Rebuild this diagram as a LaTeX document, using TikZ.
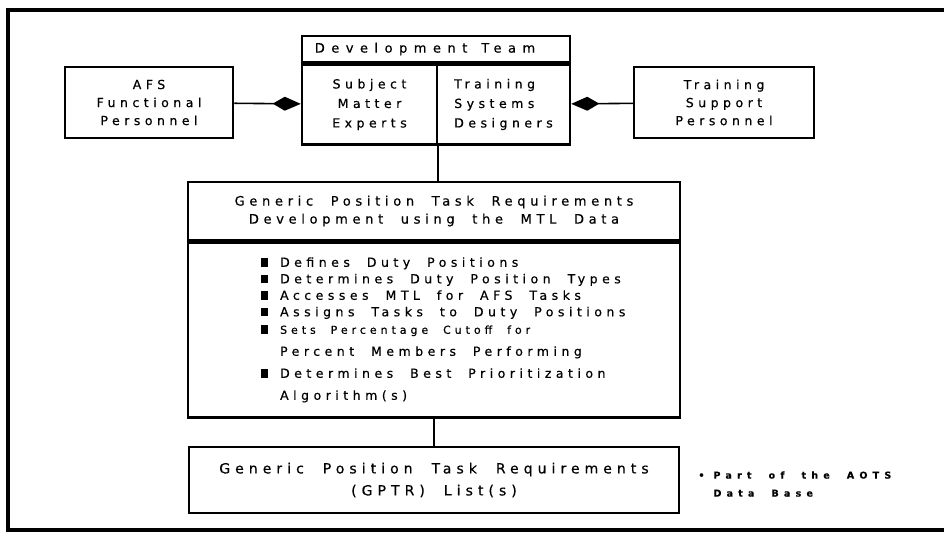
\documentclass[tikz,border=0pt]{standalone}
\usepackage{fontspec}
\setmainfont{DejaVu Sans}[LetterSpace=36, WordSpace=2, FakeBold=0.5]
\usetikzlibrary{arrows.meta, positioning}

\newcommand{\sqbul}{\raisebox{0pt}{\rule{7.5pt}{8.5pt}}}

\begin{document}
\begin{tikzpicture}[
    x=1pt, y=-1pt,
    box/.style={rectangle, draw, line width=2.5pt, align=center, inner sep=0pt, font=\fontsize{12.5}{18}\selectfont},
    teambox/.style={box, font=\fontsize{12.5}{19.5}\selectfont},
    headbox/.style={box, font=\fontsize{13}{18}\selectfont},
    bigbox/.style={box, font=\fontsize{14}{22}\selectfont},
    notetext/.style={align=left, inner sep=0pt, font=\bfseries\fontsize{9.5}{18}\selectfont\addfontfeature{LetterSpace=55}},
    link/.style={line width=1.6pt},
    arrow/.style={link, -{Kite[length=28pt, width=14pt, inset=12pt]}},
    frame/.style={line width=3.5pt}
]
\useasboundingbox (0,0) rectangle (944,536);

% outer frame, open on the right
\draw[frame] (944,10) -- (8,10) -- (8,530) -- (944,530);

% top row
\node[box, minimum width=168pt, minimum height=71pt] (afs) at (149,102.5) {AFS\\Functional\\Personnel};
\node[headbox, minimum width=268pt, minimum height=26pt] (devhead) at (436,49) {\addfontfeature{LetterSpace=50}Development\hspace{14pt}Team\hspace*{22pt}};
\node[teambox, anchor=north west, minimum width=135pt, minimum height=80pt] (sme) at (devhead.south west) {Subject\\Matter\\Experts};
\node[teambox, anchor=north east, minimum width=133pt, minimum height=80pt, align=left] (tsd) at (devhead.south east) {Training\\Systems\\Designers};
\node[box, minimum width=180pt, minimum height=71pt] (tsp) at (724,102.5) {Training\\Support\\Personnel};

\draw[arrow] (afs) -- (sme);
\draw[arrow] (tsp) -- (tsd);

% development box
\node[headbox, minimum width=492pt, minimum height=58pt] (mainhead) at (434,211) {Generic Position Task Requirements\\Development using the MTL Data};
\node[box, below=0pt of mainhead, minimum width=492pt, minimum height=175pt, font=\fontsize{12.5}{16.5}\selectfont] (mainbody) {\hspace*{18pt}%
  \begin{tabular}{@{}l@{\hspace{12pt}}l@{}}
    \sqbul & Defines Duty Positions\\
    \sqbul & Determines Duty Position Types\\
    \sqbul & Accesses MTL for AFS Tasks\\
    \sqbul & Assigns Tasks to Duty Positions\\[1pt]
    \sqbul & {\fontsize{11}{16}\selectfont Sets Percentage Cutoff for}\\[5.5pt]
           & Percent Members Performing\\[5.5pt]
    \sqbul & Determines Best Prioritization\\[5.5pt]
           & Algorithm(s)
  \end{tabular}};

\node[bigbox, below=27pt of mainbody, minimum width=490pt, minimum height=66pt] (gptr) {Generic Position Task Requirements\\(GPTR) List(s)};
\node[notetext, right=18pt of gptr, yshift=-4pt] (note) {\begin{tabular}{@{}l@{\hspace{9pt}}l@{}}
    \textbullet & Part of the AOTS\\
                & Data Base
  \end{tabular}};

\draw[link] (sme.south east) -- (sme.south east |- mainhead.north);
\draw[link] (mainbody) -- (gptr);

\end{tikzpicture}
\end{document}
